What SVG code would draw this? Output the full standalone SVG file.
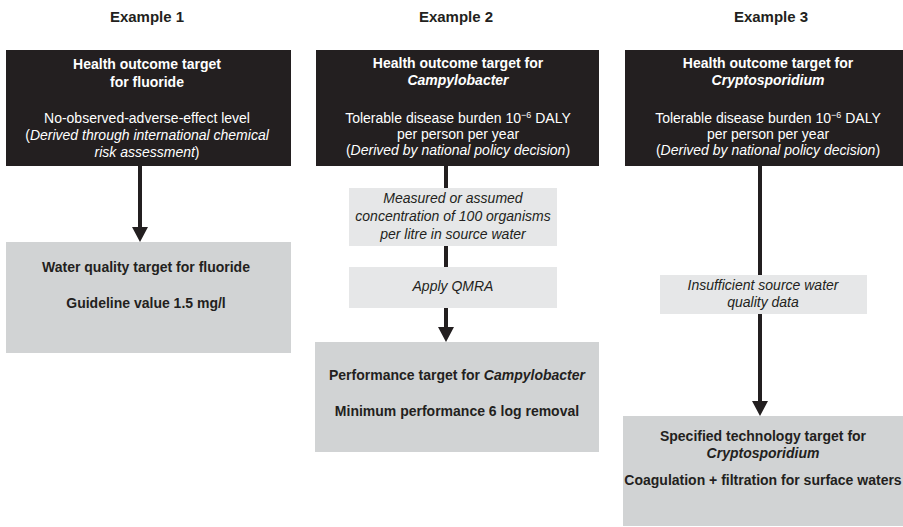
<svg xmlns="http://www.w3.org/2000/svg" width="903" height="527" viewBox="0 0 903 527">
<style>
text{font-family:"Liberation Sans",Arial,sans-serif;text-anchor:middle;font-size:14px}
.title{font-size:15px;font-weight:bold;fill:#231f20}
.dark{fill:#231f20}
.mid{fill:#d1d3d4}
.light{fill:#e6e7e8}
.w{fill:#ffffff}
.k{fill:#231f20}
.b{font-weight:bold}
.i{font-style:italic}
.sup{font-size:9px}
.conn{stroke:#231f20;stroke-width:4;fill:none}
</style>
<defs>
<marker id="ah" markerUnits="userSpaceOnUse" markerWidth="15" markerHeight="16" refX="0" refY="8" orient="auto" viewBox="0 0 15 16">
<path d="M0,0 L15,8 L0,16 z" fill="#231f20"/>
</marker>
</defs>

<g id="titles">
<text class="title" x="147" y="22">Example 1</text>
<text class="title" x="456" y="22">Example 2</text>
<text class="title" x="771" y="22">Example 3</text>
</g>

<g id="connectors">
<line class="conn" x1="140" y1="166" x2="140" y2="227" marker-end="url(#ah)"/>
<line class="conn" x1="446" y1="166" x2="446" y2="188"/>
<line class="conn" x1="446" y1="246" x2="446" y2="267"/>
<line class="conn" x1="446" y1="308" x2="446" y2="327" marker-end="url(#ah)"/>
<line class="conn" x1="760" y1="166" x2="760" y2="275"/>
<line class="conn" x1="760" y1="314" x2="760" y2="401" marker-end="url(#ah)"/>
</g>

<g id="health1">
<rect class="dark" x="6" y="50" width="285" height="116"/>
<text class="w b" x="147" y="69">Health outcome target</text>
<text class="w b" x="147" y="87">for fluoride</text>
<text class="w" x="147" y="123">No-observed-adverse-effect level</text>
<text class="w" x="147" y="140">(<tspan class="i">Derived through international chemical</tspan></text>
<text class="w" x="147" y="157"><tspan class="i">risk assessment</tspan>)</text>
</g>

<g id="health2">
<rect class="dark" x="316" y="50" width="283" height="116"/>
<text class="w b" x="458" y="68">Health outcome target for</text>
<text class="w b i" x="458" y="85">Campylobacter</text>
<text class="w" x="458" y="123">Tolerable disease burden 10<tspan class="sup" dy="-5">−6</tspan><tspan dy="5"> DALY</tspan></text>
<text class="w" x="458" y="139">per person per year</text>
<text class="w" x="458" y="155">(<tspan class="i">Derived by national policy decision</tspan>)</text>
</g>

<g id="health3">
<rect class="dark" x="625" y="50" width="278" height="116"/>
<text class="w b" x="768" y="68">Health outcome target for</text>
<text class="w b i" x="768" y="85">Cryptosporidium</text>
<text class="w" x="768" y="123">Tolerable disease burden 10<tspan class="sup" dy="-5">−6</tspan><tspan dy="5"> DALY</tspan></text>
<text class="w" x="768" y="139">per person per year</text>
<text class="w" x="768" y="155">(<tspan class="i">Derived by national policy decision</tspan>)</text>
</g>

<g id="measured">
<rect class="light" x="349" y="188" width="208" height="58"/>
<text class="k i" x="453" y="203">Measured or assumed</text>
<text class="k i" x="453" y="221">concentration of 100 organisms</text>
<text class="k i" x="453" y="239">per litre in source water</text>
</g>

<g id="qmra">
<rect class="light" x="349" y="267" width="208" height="41"/>
<text class="k i" x="453" y="291">Apply QMRA</text>
</g>

<g id="insufficient">
<rect class="light" x="660" y="275" width="207" height="39"/>
<text class="k i" x="763" y="290">Insufficient source water</text>
<text class="k i" x="763" y="307">quality data</text>
</g>

<g id="water1">
<rect class="mid" x="6" y="242" width="285" height="111"/>
<text class="k b" x="146" y="272">Water quality target for fluoride</text>
<text class="k b" x="146" y="308">Guideline value 1.5 mg/l</text>
</g>

<g id="performance2">
<rect class="mid" x="315" y="342" width="284" height="110"/>
<text class="k b" x="457" y="380">Performance target for <tspan class="i">Campylobacter</tspan></text>
<text class="k b" x="457" y="416">Minimum performance 6 log removal</text>
</g>

<g id="technology3">
<rect class="mid" x="623" y="416" width="280" height="110"/>
<text class="k b" x="763" y="441">Specified technology target for</text>
<text class="k b i" x="763" y="458">Cryptosporidium</text>
<text class="k b" x="763" y="485">Coagulation + filtration for surface waters</text>
</g>
</svg>
